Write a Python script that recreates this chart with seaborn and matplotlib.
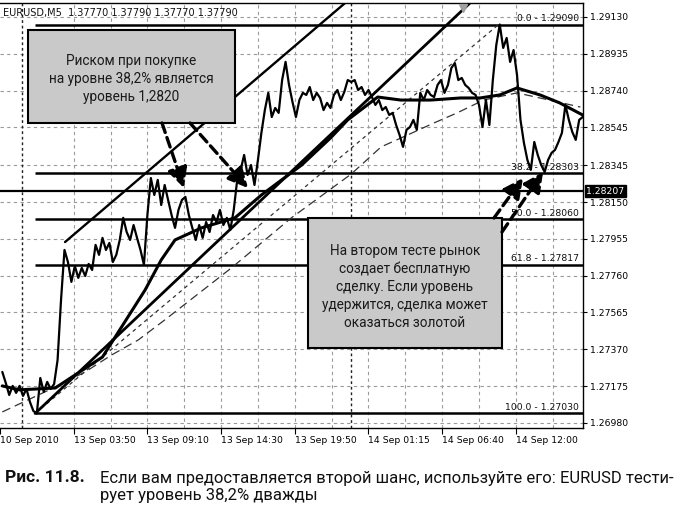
import numpy as np
import pandas as pd
import matplotlib
matplotlib.use("Agg")
import matplotlib.pyplot as plt
import matplotlib.transforms as mtransforms
from matplotlib.patches import Rectangle
import seaborn as sns

# ---------------- data ----------------
bar_step = 3  # one close value every 3 five-minute bars
close = [
    1.27250, 1.27192, 1.27128, 1.27176, 1.27139, 1.27176, 1.27123, 1.27160, 1.27091, 1.27043,
    1.27030, 1.27218, 1.27144, 1.27197, 1.27160, 1.27186, 1.27313, 1.27631, 1.27896, 1.27832,
    1.27727, 1.27811, 1.27748, 1.27801, 1.27758, 1.27822, 1.27790, 1.27923, 1.27870, 1.27960,
    1.27896, 1.27933, 1.27832, 1.27870, 1.27949, 1.28066, 1.27991, 1.27949, 1.28028, 1.27960,
    1.27896, 1.27817, 1.28081, 1.28277, 1.28187, 1.28267, 1.28134, 1.28240, 1.28161, 1.28081,
    1.28013, 1.28108, 1.28161, 1.28177, 1.28081, 1.28013, 1.27949, 1.28028, 1.27960, 1.28044,
    1.27991, 1.28081, 1.28044, 1.28108, 1.28028, 1.28066, 1.28002, 1.28108, 1.28267, 1.28320,
    1.28399, 1.28293, 1.28346, 1.28240, 1.28373, 1.28516, 1.28637, 1.28728, 1.28600, 1.28648,
    1.28622, 1.28796, 1.28892, 1.28770, 1.28680, 1.28600, 1.28690, 1.28728, 1.28717, 1.28759,
    1.28690, 1.28728, 1.28701, 1.28637, 1.28675, 1.28648, 1.28717, 1.28743, 1.28690, 1.28733,
    1.28796, 1.28786, 1.28796, 1.28743, 1.28759, 1.28717, 1.28743, 1.28706, 1.28664, 1.28690,
    1.28637, 1.28653, 1.28611, 1.28622, 1.28558, 1.28505, 1.28442, 1.28532, 1.28547, 1.28585,
    1.28532, 1.28728, 1.28690, 1.28743, 1.28717, 1.28706, 1.28770, 1.28796, 1.28728, 1.28770,
    1.28860, 1.28886, 1.28796, 1.28807, 1.28770, 1.28754, 1.28728, 1.28717, 1.28664, 1.28547,
    1.28690, 1.28558, 1.28796, 1.28982, 1.29090, 1.28966, 1.29019, 1.28892, 1.28955, 1.28823,
    1.28585, 1.28463, 1.28373, 1.28320, 1.28468, 1.28399, 1.28346, 1.28309, 1.28373, 1.28410,
    1.28426, 1.28468, 1.28516, 1.28664, 1.28585, 1.28521, 1.28479, 1.28585, 1.28600,
]

# thick moving average
ma_bars = [0, 15, 46, 87, 124, 138, 150, 173, 202, 225, 260, 285, 300, 326, 346, 372, 398, 415,
           432, 447, 467, 484, 504]
ma_vals = [1.27176, 1.27155, 1.27165, 1.27329, 1.27684, 1.27843, 1.27949, 1.28013, 1.28066,
           1.28187, 1.28346, 1.28489, 1.28585, 1.28706, 1.28690, 1.28690, 1.28701, 1.28701,
           1.28717, 1.28754, 1.28717, 1.28675, 1.28611]

# thin long-dashed moving average
lma_bars = [0, 46, 72, 95, 118, 141, 199, 251, 303, 329, 352, 375, 395, 418, 447, 502]
lma_vals = [1.27038, 1.27170, 1.27250, 1.27340, 1.27419, 1.27525, 1.27801, 1.28066, 1.28298,
            1.28442, 1.28505, 1.28569, 1.28622, 1.28690, 1.28728, 1.28653]

# Fibonacci retracement
fib_levels = ["0.0", "38.2", "50.0", "61.8", "100.0"]
fib_prices = [1.29090, 1.28303, 1.28060, 1.27817, 1.27030]
fib_low_bar, fib_high_bar = 28.5, 431
fib_end_bar = 504.3

# stop level
stop_price = 1.28207
stop_label = "1.28207"

# trend / channel lines
upper_bars = [54.5, 310]
upper_prices = [1.27938, 1.29268]
lower_bars = [28.5, 410]
lower_prices = [1.27030, 1.29226]

# axes
y_ticks = [1.29130, 1.28935, 1.28740, 1.28545, 1.28345, 1.28150, 1.27955, 1.27760, 1.27565,
           1.27370, 1.27175, 1.26980]
y_tick_labels = ["1.29130", "1.28935", "1.28740", "1.28545", "1.28345", "1.28150", "1.27955",
                 "1.27760", "1.27565", "1.27370", "1.27175", "1.26980"]
x_tick_bars = [-2, 62, 126, 190, 254, 318, 382, 446]
x_tick_labels = ["10 Sep 2010", "13 Sep 03:50", "13 Sep 09:10", "13 Sep 14:30", "13 Sep 19:50",
                 "14 Sep 01:15", "14 Sep 06:40", "14 Sep 12:00"]
x_grid_bars = [62, 94, 126, 158, 190, 222, 254, 286, 318, 350, 382, 414, 446, 478]
day_sep_bars = [17, 303]

header = "EURUSD,M5  1.37770 1.37790 1.37770 1.37790"
box1_text = "Риском при покупке\nна уровне 38,2% является\nуровень 1,2820"
box2_text = ("На втором тесте рынок\nсоздает бесплатную\nсделку. Если уровень\n"
             "удержится, сделка может\nоказаться золотой")
caption_bold = "Рис. 11.8."
caption_text = ("Если вам предоставляется второй шанс, используйте его: EURUSD тести-\n"
                "рует уровень 38,2% дважды")

# ---------------- plotting ----------------
sns.set_theme(style="white")
plt.rcParams["font.family"] = ["DejaVu Sans"]

W, H = 675, 508
fig = plt.figure(figsize=(W / 100, H / 100), dpi=100)
ax_left, ax_right, ax_top, ax_bottom = 0, 583, 3, 428
ax = fig.add_axes([ax_left / W, 1 - ax_bottom / H, (ax_right - ax_left) / W,
                   (ax_bottom - ax_top) / H])

price_df = pd.DataFrame({"bar": np.arange(len(close)) * bar_step, "close": close})
ma_df = pd.DataFrame({"bar": ma_bars, "val": ma_vals})
lma_df = pd.DataFrame({"bar": lma_bars, "val": lma_vals})

grid_kw = dict(color="#9a9a9a", lw=0.8, ls=(0, (3, 3)), zorder=0)
for yt in y_ticks:
    ax.axhline(yt, **grid_kw)
for xb in x_grid_bars:
    ax.axvline(xb, **grid_kw)
for xb in day_sep_bars:
    ax.axvline(xb, color="#222222", lw=1.0, ls=(0, (2, 2)), zorder=0.5)

# Fibonacci levels
for lvl, p in zip(fib_levels, fib_prices):
    ax.plot([fib_low_bar, fib_end_bar], [p, p], color="black", lw=1.8, zorder=2,
            solid_capstyle="butt")
    ax.annotate(f"{lvl} - {p:.5f}", xy=(fib_end_bar, p), xytext=(-3, 1),
                textcoords="offset points", ha="right", va="bottom", fontsize=6.7,
                color="#111111", zorder=2)
# Fibonacci base trendline (dashed)
ax.plot([fib_low_bar, fib_high_bar], [fib_prices[-1], fib_prices[0]], color="#333333",
        lw=0.9, ls=(0, (3, 3)), zorder=2)

# stop level line
ax.axhline(stop_price, color="black", lw=1.6, zorder=2)

# channel lines
ax.plot(upper_bars, upper_prices, color="black", lw=1.7, zorder=3)
ax.plot(lower_bars, lower_prices, color="black", lw=2.0, zorder=3)

# moving averages
sns.lineplot(data=lma_df, x="bar", y="val", ax=ax, color="#333333", lw=0.9,
             dashes=False, zorder=3, linestyle=(0, (7, 4)))
sns.lineplot(data=ma_df, x="bar", y="val", ax=ax, color="black", lw=2.2, zorder=4)

# price line
sns.lineplot(data=price_df, x="bar", y="close", ax=ax, color="black", lw=1.6, zorder=5)

ax.set_xlim(0, 504.3)
ax.set_ylim(1.26953, 1.29204)
ax.set_xlabel("")
ax.set_ylabel("")

# axes styling
ax.spines["left"].set_visible(False)
for side in ["right", "bottom", "top"]:
    ax.spines[side].set_color("black")
    ax.spines[side].set_linewidth(1.0)

ax.yaxis.tick_right()
ax.set_yticks(y_ticks, y_tick_labels)
ax.tick_params(axis="y", which="both", right=True, left=False, length=3, width=0.8,
               direction="out", pad=2, labelsize=6.7, colors="black")
ax.set_xticks(x_tick_bars, x_tick_labels)
for lbl in ax.get_xticklabels():
    lbl.set_ha("left")
ax.tick_params(axis="x", bottom=True, length=4, width=0.8, direction="out", pad=2,
               labelsize=6.7, colors="black")

# stop price label on the scale
trans = mtransforms.blended_transform_factory(ax.transAxes, ax.transData)
ax.text(1.006, stop_price, stop_label, transform=trans, ha="left", va="center",
        fontsize=6.7, color="white", zorder=10,
        bbox=dict(boxstyle="square,pad=0.15", fc="black", ec="black"))

# small shift marker at the top
ax.plot([0.794], [0.988], marker="v", ms=6, color="#a0a0a0", transform=ax.transAxes,
        clip_on=False, zorder=6)

# header
fig.text(3 / W, 1 - 13 / H, header, fontsize=7, va="center", ha="left", color="#111111")

# annotation boxes
def px2ax(px, py):
    return (px - ax_left) / (ax_right - ax_left), (ax_bottom - py) / (ax_bottom - ax_top)

box_font = ["Roboto", "DejaVu Sans"]
for (x0, y0, x1, y1), txt, (cx, cy) in [
    ((28, 30, 235, 123), box1_text, (131.5, 79)),
    ((308, 218, 502, 348), box2_text, (405, 287)),
]:
    ax0, ay1 = px2ax(x0, y0)
    ax1, ay0 = px2ax(x1, y1)
    ax.add_patch(Rectangle((ax0, ay0), ax1 - ax0, ay1 - ay0, transform=ax.transAxes,
                           fc="#c9c9c9", ec="black", lw=1.5, zorder=8))
    tx, ty = px2ax(cx, cy)
    ax.text(tx, ty, txt, transform=ax.transAxes, ha="center", va="center",
            fontsize=9.8, family=box_font, color="#1a1a1a", linespacing=1.35, zorder=9)

# dashed arrows
arrows = [((162, 123), (184, 188)), ((190, 123), (248, 188)),
          ((494, 218), (523, 178)), ((502, 232), (543, 172))]
for (sx, sy), (ex, ey) in arrows:
    ax.annotate("", xy=px2ax(ex, ey), xytext=px2ax(sx, sy), xycoords="axes fraction",
                textcoords="axes fraction", zorder=9,
                arrowprops=dict(arrowstyle="-|>,head_length=1.0,head_width=0.5",
                                lw=2.4, ls=(0, (3, 1.6)), color="black",
                                shrinkA=0, shrinkB=0, mutation_scale=12))

# caption
cap_font = ["Roboto", "DejaVu Sans"]
fig.text(5 / W, 1 - 477 / H, caption_bold, fontsize=12.5, fontweight="bold",
         family=cap_font, va="center", ha="left", color="#111111")
fig.text(100 / W, 1 - 487 / H, caption_text, fontsize=12, family=cap_font,
         va="center", ha="left", color="#111111", linespacing=1.2)

fig.savefig("out.png", dpi=100)
